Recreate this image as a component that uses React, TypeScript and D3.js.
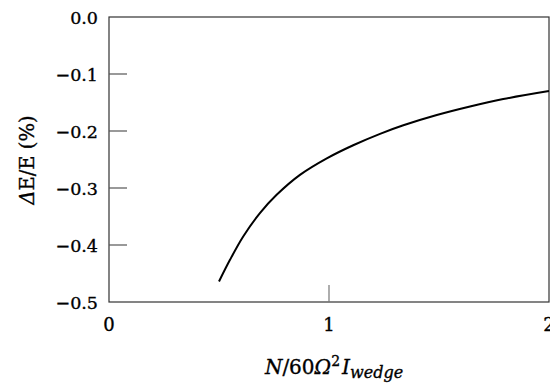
import React from "react";
import * as d3 from "d3";

const xValues = [0.5, 0.55, 0.61, 0.686, 0.762, 0.868, 0.99, 1.11, 1.232, 1.338, 1.49, 1.641, 1.792, 2.0];
const yValues = [-0.464, -0.426, -0.385, -0.344, -0.312, -0.277, -0.248, -0.225, -0.205, -0.19, -0.172, -0.157, -0.144, -0.13];
const yTicks = [0, -0.1, -0.2, -0.3, -0.4, -0.5];
const xTickLabels = [0, 1, 2];

const W = 550, H = 383;
const left = 109, right = 549, top = 17, bottom = 302;
const FONT = "'DejaVu Serif', serif";

export default function App() {
  const x = d3.scaleLinear().domain([0, 2]).range([left, right]);
  const y = d3.scaleLinear().domain([-0.5, 0]).range([bottom, top]);
  const pts = xValues.map((v, i) => [v, yValues[i]] as [number, number]);
  const line = d3.line<[number, number]>().x(d => x(d[0])).y(d => y(d[1])).curve(d3.curveCatmullRom.alpha(0.5));
  const fmt = (v: number) => (v === 0 ? "0.0" : "\u2212" + Math.abs(v).toFixed(1));
  const txt = { fill: "#000", stroke: "#000", strokeWidth: 0.35 };
  return (
    <svg width={W} height={H} style={{ position: "absolute", left: 0, top: 0, background: "#fff" }} fontFamily={FONT}>
      <rect x={left} y={top} width={right - left} height={bottom - top} fill="none" stroke="#333" strokeWidth={1.2} />
      {yTicks.map(t => (
        <g key={t}>
          {t !== 0 && t !== -0.5 && <line x1={left} x2={left + 18} y1={y(t)} y2={y(t)} stroke="#555" strokeWidth={1.2} />}
          <text x={98} y={y(t) + 6.5} textAnchor="end" fontSize={17.5} {...txt}>{fmt(t)}</text>
        </g>
      ))}
      {xTickLabels.map(t => (
        <g key={t}>
          {t === 1 && <line x1={x(t)} x2={x(t)} y1={bottom} y2={bottom - 17} stroke="#777" strokeWidth={1.2} />}
          <text x={x(t)} y={331} textAnchor="middle" fontSize={18} {...txt}>{t}</text>
        </g>
      ))}
      <path d={line(pts) || ""} fill="none" stroke="#000" strokeWidth={2} />
      <text transform="translate(34,160) rotate(-90)" textAnchor="middle" fontSize={19.5} {...txt}>
        <tspan fontStyle="italic">Δ</tspan>E/E (%)
      </text>
      <text x={334} y={374} textAnchor="middle" fontSize={20} {...txt}>
        <tspan fontStyle="italic">N</tspan>/60<tspan fontStyle="italic">Ω</tspan>
        <tspan fontSize={14} dy={-8}>2</tspan>
        <tspan fontStyle="italic" dy={8} dx={2}>I</tspan>
        <tspan fontStyle="italic" fontSize={16} dy={4}>wedge</tspan>
      </text>
    </svg>
  );
}
